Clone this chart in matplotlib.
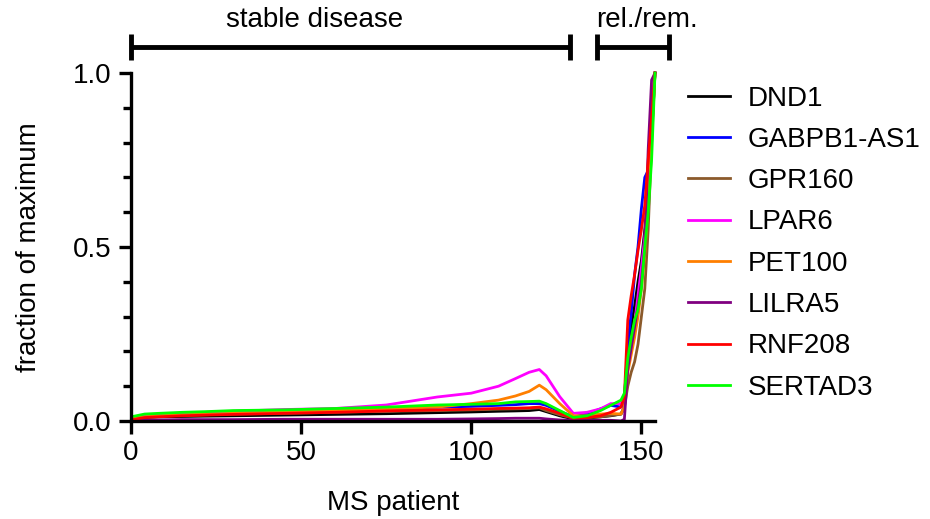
import numpy as np
import matplotlib
matplotlib.use("Agg")
import matplotlib.pyplot as plt
from matplotlib.ticker import MultipleLocator

plt.rcParams['font.family'] = ['Liberation Sans', 'DejaVu Sans']

# patient index (sorted), shared by all genes
patients = [1, 4, 8, 15, 22, 30, 45, 60, 75, 90, 100, 108, 113, 117, 120, 122,
            126, 130, 134, 138, 141, 144, 145, 146, 147, 148, 149, 150, 151, 152,
            153, 154]

dnd1 = [0.008, 0.010, 0.012, 0.013, 0.014, 0.015, 0.017, 0.019, 0.021, 0.024,
        0.026, 0.028, 0.029, 0.030, 0.033, 0.027, 0.015, 0.006, 0.008, 0.012,
        0.015, 0.020, 0.040, 0.200, 0.270, 0.330, 0.400, 0.460, 0.550, 0.660,
        0.820, 1.000]
gabpb1 = [0.010, 0.015, 0.018, 0.020, 0.022, 0.025, 0.028, 0.032, 0.035, 0.040,
          0.042, 0.045, 0.047, 0.050, 0.050, 0.045, 0.028, 0.012, 0.020, 0.035,
          0.045, 0.040, 0.060, 0.220, 0.310, 0.420, 0.500, 0.610, 0.700, 0.720,
          0.880, 1.000]
gpr160 = [0.010, 0.012, 0.014, 0.016, 0.018, 0.020, 0.022, 0.025, 0.028, 0.030,
          0.032, 0.034, 0.035, 0.036, 0.038, 0.030, 0.018, 0.008, 0.010, 0.012,
          0.016, 0.020, 0.040, 0.100, 0.140, 0.170, 0.220, 0.300, 0.380, 0.550,
          0.800, 1.000]
lpar6 = [0.012, 0.015, 0.018, 0.022, 0.025, 0.028, 0.033, 0.036, 0.046, 0.069,
         0.080, 0.100, 0.122, 0.140, 0.148, 0.130, 0.070, 0.022, 0.025, 0.035,
         0.050, 0.050, 0.070, 0.160, 0.220, 0.280, 0.360, 0.440, 0.530, 0.660,
         0.850, 1.000]
pet100 = [0.008, 0.012, 0.015, 0.018, 0.020, 0.022, 0.026, 0.030, 0.035, 0.040,
          0.050, 0.060, 0.072, 0.085, 0.103, 0.090, 0.050, 0.015, 0.015, 0.020,
          0.022, 0.020, 0.040, 0.140, 0.190, 0.240, 0.300, 0.380, 0.480, 0.620,
          0.820, 1.000]
lilra5 = [0.002, 0.003, 0.003, 0.004, 0.004, 0.004, 0.005, 0.005, 0.005, 0.005,
          0.006, 0.007, 0.008, 0.008, 0.008, 0.006, 0.003, 0.002, 0.002, 0.002,
          0.002, 0.000, 0.005, 0.150, 0.210, 0.270, 0.330, 0.400, 0.500, 0.780,
          0.980, 1.000]
rnf208 = [0.005, 0.010, 0.012, 0.015, 0.017, 0.019, 0.022, 0.025, 0.029, 0.032,
          0.034, 0.036, 0.037, 0.038, 0.040, 0.035, 0.022, 0.008, 0.010, 0.015,
          0.025, 0.040, 0.070, 0.290, 0.360, 0.420, 0.490, 0.550, 0.620, 0.750,
          0.870, 1.000]
sertad3 = [0.014, 0.020, 0.022, 0.025, 0.027, 0.030, 0.032, 0.036, 0.040, 0.046,
           0.048, 0.050, 0.055, 0.056, 0.057, 0.050, 0.030, 0.010, 0.015, 0.030,
           0.045, 0.060, 0.080, 0.180, 0.240, 0.290, 0.320, 0.380, 0.500, 0.600,
           0.750, 1.000]

genes = ['DND1', 'GABPB1-AS1', 'GPR160', 'LPAR6', 'PET100', 'LILRA5', 'RNF208', 'SERTAD3']
values = [dnd1, gabpb1, gpr160, lpar6, pet100, lilra5, rnf208, sertad3]
colors = ['#000000', '#0000ff', '#8b5a2b', '#ff00ff', '#ff7f00', '#800080', '#ff0000', '#00ff00']

# disease course groups shown as brackets over the plot
groups = ['stable disease', 'rel./rem.']
group_start = [0, 137]
group_end = [129, 158]
group_label_x = [54, 151.5]

fig = plt.figure(figsize=(9.3, 5.19), dpi=100)
ax = fig.add_axes([0.1409, 0.1888, 0.5634, 0.6705])

for name, y, c in zip(genes, values, colors):
    ax.plot(patients, y, color=c, lw=2, label=name, clip_on=False)

ax.set_xlim(0, 154)
ax.set_ylim(0, 1.0)
ax.spines['top'].set_visible(False)
ax.spines['right'].set_visible(False)
ax.spines['left'].set_linewidth(2.4)
ax.spines['bottom'].set_linewidth(2.4)
ax.set_xticks([0, 50, 100, 150])
ax.set_yticks([0.0, 0.5, 1.0])
ax.set_yticklabels(['0.0', '0.5', '1.0'])
ax.yaxis.set_minor_locator(MultipleLocator(0.1))
ax.tick_params(which='major', length=9, width=2.4, labelsize=20, pad=5)
ax.tick_params(which='minor', axis='y', length=6, width=2.4)
ax.set_xlabel('MS patient', fontsize=20, labelpad=17)
ax.set_ylabel('fraction of maximum', fontsize=20, labelpad=22)

for g, x0, x1, xl in zip(groups, group_start, group_end, group_label_x):
    ax.plot([x0, x1], [1.075, 1.075], color='black', lw=3.5, clip_on=False,
            solid_capstyle='butt')
    for xe in (x0, x1):
        ax.plot([xe, xe], [1.037, 1.112], color='black', lw=3.5, clip_on=False,
                solid_capstyle='butt')
    ax.text(xl, 1.152, g, fontsize=20, ha='center', va='center', clip_on=False)

ax.legend(loc='upper left', bbox_to_anchor=(0.740, 0.835), bbox_transform=fig.transFigure,
          frameon=False, fontsize=20, handlelength=1.5, handletextpad=0.65,
          labelspacing=0.55, borderpad=0, borderaxespad=0)

fig.savefig('out.png', dpi=100)
